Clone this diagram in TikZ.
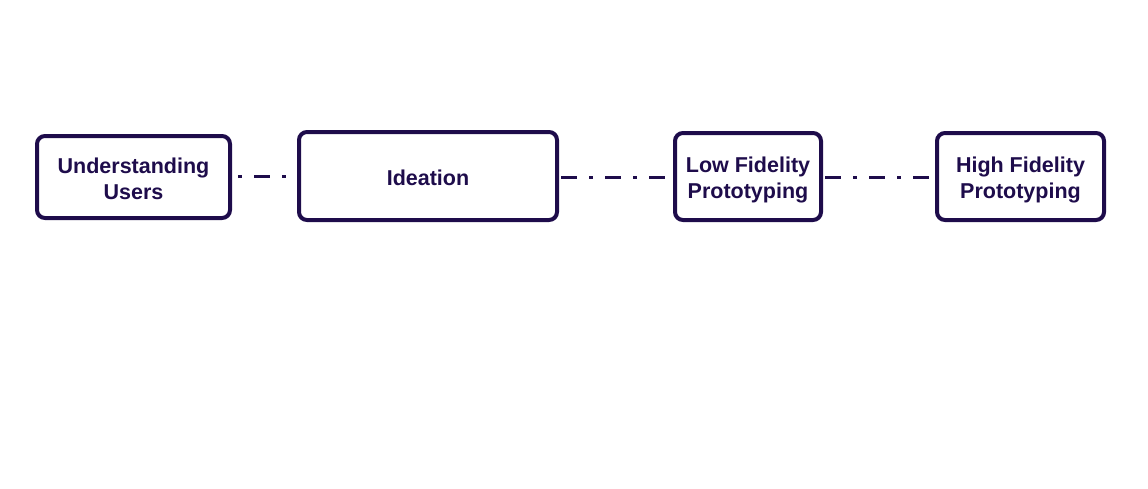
\documentclass[tikz,border=0pt]{standalone}
\usepackage{fontspec}
\setmainfont{Liberation Sans}
\definecolor{navy}{RGB}{30,12,75}
\newcommand{\stagetext}[1]{\raisebox{-4pt}[\height][\depth]{\begin{tabular}{@{}c@{}}#1\end{tabular}}}
\begin{document}
\begin{tikzpicture}[x=1pt,y=-1pt,
  stage/.style={draw=navy,line width=4pt,rounded corners=8pt,
    inner sep=0pt,text=navy,font=\fontsize{21.5}{26}\selectfont\bfseries},
  link/.style={draw=navy,line width=3pt,dash pattern=on 16pt off 12pt on 4pt off 12pt}]
\useasboundingbox (0,0) rectangle (1148,488);
\node[stage,minimum width=193pt,minimum height=82pt] (u) at (133.5,177) {\stagetext{Understanding\\Users}};
\node[stage,minimum width=258pt,minimum height=88pt] (i) at (428,176) {\stagetext{Ideation}};
\node[stage,minimum width=146pt,minimum height=87pt] (l) at (748,176.5) {\stagetext{Low Fidelity\\Prototyping}};
\node[stage,minimum width=167pt,minimum height=87pt] (h) at (1020.5,176.5) {\stagetext{High Fidelity\\Prototyping}};
\draw[link,dash phase=22pt] (u.east |- 0,176) -- (i.west |- 0,176);
\draw[link,dash phase=-2pt] (i.east |- 0,177) -- (l.west |- 0,177);
\draw[link,dash phase=-2pt] (l.east |- 0,177) -- (h.west |- 0,177);
\end{tikzpicture}
\end{document}
